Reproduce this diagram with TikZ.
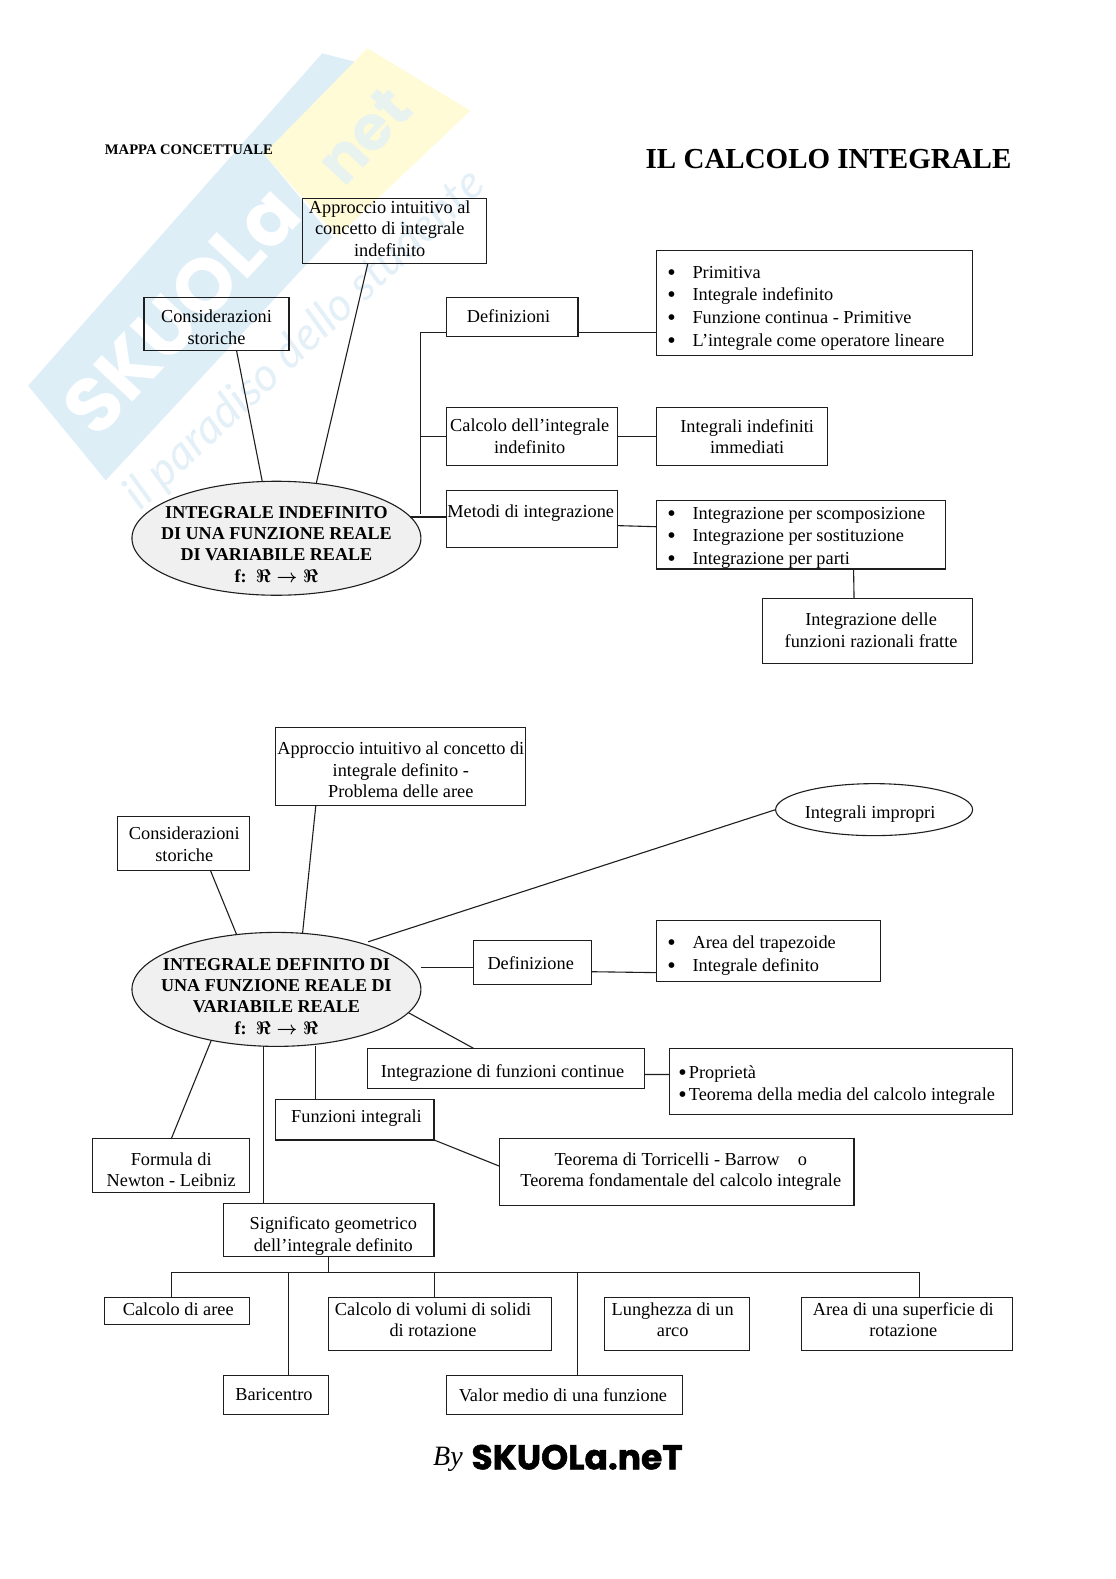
\documentclass[tikz,border=0pt]{standalone}
\usepackage{fontspec}
\usepackage{fix-cm}
\usepackage{amsfonts}
\setmainfont{Liberation Serif}
\newfontfamily\wmfont{Poppins}[BoldFont=* Bold]
\newfontfamily\wmit{Lato}
\usetikzlibrary{shapes.geometric,calc}
\definecolor{wmblue}{RGB}{221,238,247}
\definecolor{wmnetc}{RGB}{232,243,240}
\definecolor{wmyellow}{RGB}{255,251,214}
\definecolor{wmtext}{RGB}{228,240,248}
\definecolor{ink}{RGB}{30,30,30}
\tikzset{
  boxst/.style={draw=ink,line width=1.1pt,inner sep=0pt,outer sep=0pt,rectangle},
  ellst/.style={draw=ink,line width=1.1pt,inner sep=0pt,outer sep=0pt,ellipse},
  txt/.style={inner sep=0pt,align=center,text=black,font=\fontsize{18.3}{21.7}\selectfont},
  btxt/.style={inner sep=0pt,align=center,text=black,font=\fontsize{18.1}{21.3}\selectfont\bfseries},
  ltxt/.style={inner sep=0pt,align=left,anchor=west,text=black,font=\fontsize{18.3}{22.6}\selectfont},
  conn/.style={draw=ink,line width=1.1pt}
}
\newcommand{\Bx}[5]{\pgfmathsetmacro\bw{(#4-#2)*1.0072}\pgfmathsetmacro\bh{(#5-#3)*1.0072}%
  \node[boxst,minimum width=\bw pt,minimum height=\bh pt] (#1) at ({(#2+#4)/2},{(#3+#5)/2}) {};}
\newcommand{\Bu}{\makebox[25.2pt][l]{\raisebox{-2pt}[0pt][0pt]{\fontsize{24}{24}\selectfont •}}}
\newcommand{\Bs}{\makebox[10.5pt][l]{\raisebox{-2pt}[0pt][0pt]{\fontsize{24}{24}\selectfont •}}}
\newcommand{\Fmap}{f:\ \ {\boldmath$\Re\rightarrow\Re$}}
\begin{document}
\begin{tikzpicture}[x=1.0072pt,y=-1.0072pt]
\useasboundingbox[fill=white] (0,0) rectangle (1108,1568);
% watermark
\fill[wmblue] (28,383) -- (320,53) -- (355,62) -- (262,153) -- (330,235) -- (105,477) -- cycle;
\fill[wmyellow] (365,48) -- (467,110) -- (335,235) -- (262,153) -- cycle;
\node[rotate=47,text=white,inner sep=0pt,font=\wmfont\bfseries\fontsize{77}{77}\selectfont] (wmname) at (180,308) {SKUOLa};
\node[rotate=47,text=wmnetc,inner sep=0pt,font=\wmfont\bfseries\fontsize{62}{62}\selectfont] (wmnet) at (362,135) {net};
\node[rotate=43,text=wmtext,inner sep=0pt,font=\wmit\itshape\fontsize{46}{46}\selectfont] (wmsub) at (303,338) {il paradiso dello studente};
% titles
\node[inner sep=0pt,anchor=west,font=\fontsize{14.6}{16}\selectfont\bfseries] (mappa) at (104,149) {MAPPA CONCETTUALE};
\node[inner sep=0pt,anchor=west,font=\fontsize{29}{32}\selectfont\bfseries] (title) at (641,158) {IL CALCOLO INTEGRALE};
% --- upper map
\Bx{appr1}{300}{197}{483}{262}
\node[txt] (appr1t) at (387,227) {Approccio intuitivo al\\concetto di integrale\\indefinito};
\Bx{cons1}{143}{295}{287}{348}
\node[txt] (cons1t) at (215,325) {Considerazioni\\storiche};
\Bx{defs}{443}{295}{574}{334}
\node[txt] (defst) at (505,314) {Definizioni};
\Bx{list1}{652}{249}{966}{353}
\node[ltxt] (list1t) at (662.5,306) {\Bu Primitiva\\\Bu Integrale indefinito\\\Bu Funzione continua - Primitive\\\Bu L’integrale come operatore lineare};
\Bx{calc1}{443}{405}{613}{462}
\node[txt] (calc1t) at (526,433.5) {Calcolo dell’integrale\\indefinito};
\Bx{imm}{652}{405}{822}{462}
\node[txt] (immt) at (742,433.5) {Integrali indefiniti\\immediati};
\Bx{metodi}{443}{487}{613}{544}
\node[txt] (metodit) at (527,510) {Metodi di integrazione};
\Bx{list2}{652}{497}{939}{565}
\node[ltxt] (list2t) at (662.5,534) {\Bu Integrazione per scomposizione\\\Bu Integrazione per sostituzione\\\Bu Integrazione per parti};
\Bx{razio}{757}{594}{966}{659}
\node[txt] (raziot) at (865,625.5) {Integrazione delle\\funzioni razionali fratte};
\node[ellst,fill=black!6,minimum width=289pt,minimum height=114pt] (e1) at (274.5,534.5) {};
\node[btxt] (e1t) at (274.5,540.5) {INTEGRALE INDEFINITO\\DI UNA FUNZIONE REALE\\DI VARIABILE REALE\\\Fmap};
% upper connectors
\draw[conn] ([xshift=20pt]cons1.south) -- (e1.104);
\draw[conn] ([xshift=-26.5pt]appr1.south) -- (e1.54);
\coordinate (spinetop) at (418,330);
\coordinate (spinebot) at (418,510);
\draw[conn] (spinetop) -- (spinebot);
\draw[conn] (spinetop) -- (spinetop -| defs.west);
\draw[conn] (calc1.west) -- (calc1.west -| spinetop);
\draw[conn] (e1.9) -- (e1.9 -| metodi.west);
\coordinate (d1) at ([yshift=-15.5pt]defs.east);
\draw[conn] (d1) -- (d1 -| list1.west);
\draw[conn] (calc1.east) -- (imm.west);
\draw[conn] ([yshift=-6.5pt]metodi.east) -- ([yshift=8pt]list2.west);
\draw[conn] ([xshift=52.5pt]list2.south) -- ([xshift=-13.5pt]razio.north);
% --- lower map
\Bx{appr2}{274}{722}{522}{800}
\node[txt] (appr2t) at (398,764.5) {Approccio intuitivo al concetto di\\integrale definito -\\Problema delle aree};
\Bx{cons2}{117}{811}{248}{864}
\node[txt] (cons2t) at (183,838.5) {Considerazioni\\storiche};
\node[ellst,minimum width=197pt,minimum height=52pt] (imp) at (868,804) {};
\node[txt] (impt) at (864,808) {Integrali impropri};
\node[ellst,fill=black!6,minimum width=289pt,minimum height=114pt] (e2) at (274.5,982.5) {};
\node[btxt] (e2t) at (274.5,989.5) {INTEGRALE DEFINITO DI\\UNA FUNZIONE REALE DI\\VARIABILE REALE\\\Fmap};
\Bx{defz}{470}{934}{587}{978}
\node[txt] (defzt) at (527,956) {Definizione};
\Bx{list3}{652}{914}{874}{975}
\node[ltxt] (list3t) at (662.5,949) {\Bu Area del trapezoide\\\Bu Integrale definito};
\Bx{cont}{365}{1041}{640}{1081}
\node[txt] (contt) at (499,1066) {Integrazione di funzioni continue};
\Bx{list4}{665}{1041}{1005}{1107}
\node[ltxt,font=\fontsize{18.3}{21.7}\selectfont] (list4t) at (673.5,1077.5) {\Bs Proprietà\\\Bs Teorema della media del calcolo integrale};
\Bx{funz}{274}{1092}{431}{1132}
\node[txt] (funzt) at (354,1110) {Funzioni integrali};
\Bx{tor}{496}{1131}{848}{1197}
\node[txt] (tort) at (676,1163.5) {Teorema di Torricelli - Barrow\quad o\\Teorema fondamentale del calcolo integrale};
\Bx{form}{92}{1131}{248}{1184}
\node[txt] (formt) at (170,1161.5) {Formula di\\Newton - Leibniz};
\Bx{sig}{222}{1195}{431}{1248}
\node[txt] (sigt) at (331,1227.5) {Significato geometrico\\dell’integrale definito};
\Bx{aree}{104}{1288}{248}{1315}
\node[txt] (areet) at (177,1300) {Calcolo di aree};
\Bx{vol}{326}{1288}{548}{1341}
\node[txt] (volt) at (430,1310.5) {Calcolo di volumi di solidi\\di rotazione};
\Bx{lung}{600}{1288}{744}{1341}
\node[txt] (lungt) at (668,1310.5) {Lunghezza di un\\arco};
\Bx{sup}{796}{1288}{1005}{1341}
\node[txt] (supt) at (897,1310.5) {Area di una superficie di\\rotazione};
\Bx{bari}{222}{1366}{326}{1405}
\node[txt] (barit) at (272,1385) {Baricentro};
\Bx{valor}{443}{1366}{678}{1405}
\node[txt] (valort) at (559,1385) {Valor medio di una funzione};
% lower connectors
\draw[conn] ([xshift=26.5pt]cons2.south) -- (e2.126);
\draw[conn] ([xshift=-85pt]appr2.south) -- (e2.65);
\draw[conn,shorten >=6pt] (imp.west) -- (e2.28);
\coordinate (dz) at ([yshift=-5pt]defz.west);
\draw[conn] (dz -| e2.east) -- (dz);
\draw[conn] ([yshift=-9pt]defz.east) -- ([yshift=-21.5pt]list3.west);
\draw[conn] (e2.-10) -- ([xshift=-32.5pt]cont.north);
\draw[conn] ([yshift=-6pt]cont.east) -- ([yshift=7pt]list4.west);
\coordinate (fi) at ([xshift=-39.5pt]funz.north);
\draw[conn] (fi) -- (fi |- e2.south);
\draw[conn] (funz.south east) -- ([yshift=6pt]tor.west);
\draw[conn] (e2.218) -- (form.north);
\coordinate (sg) at ([xshift=-65.5pt]sig.north);
\draw[conn] (sg |- e2.south) -- (sg);
\coordinate (barl) at (170,1263.5);
\coordinate (barr) at (913,1263.5);
\draw[conn] (barl) -- (barr);
\draw[conn] (sig.south) -- (sig.south |- barl);
\coordinate (da) at ([xshift=-6pt]aree.north);
\draw[conn] (da) -- (da |- barl);
\coordinate (db) at ([xshift=13pt]bari.north);
\draw[conn] (db) -- (db |- barl);
\coordinate (dv) at ([xshift=-6pt]vol.north);
\draw[conn] (dv) -- (dv |- barl);
\coordinate (dm) at ([xshift=13.5pt]valor.north);
\draw[conn] (dm) -- (dm |- barl);
\coordinate (ds) at ([xshift=12.5pt]sup.north);
\draw[conn] (ds) -- (ds |- barl);
% footer
\node[inner sep=0pt,anchor=west,font=\fontsize{28}{30}\selectfont\itshape] (by) at (430,1449) {By};
\node[inner sep=0pt,anchor=west,font=\wmfont\bfseries\fontsize{34.5}{36}\selectfont\addfontfeature{FakeBold=1.5}] (logo) at (468,1447) {SKUOLa.neT};
\end{tikzpicture}
\end{document}
